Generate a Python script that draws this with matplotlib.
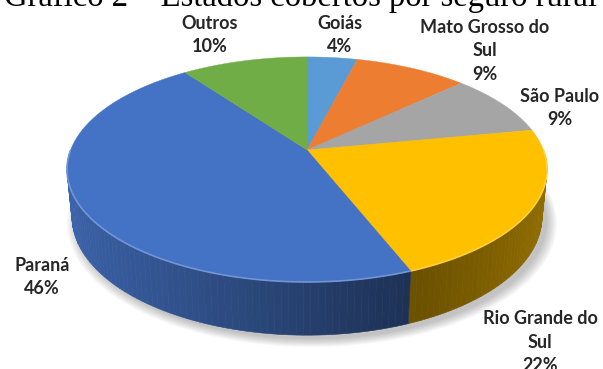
import numpy as np
import matplotlib
matplotlib.use('Agg')
import matplotlib.pyplot as plt
from matplotlib.patches import Polygon
from matplotlib.colors import to_rgb

# data
states = ['Goiás', 'Mato Grosso do\nSul', 'São Paulo', 'Rio Grande do\nSul', 'Paraná', 'Outros']
shares = [4, 9, 9, 22, 46, 10]
colors = ['#5B9BD5', '#ED7D31', '#A5A5A5', '#FFC000', '#4472C4', '#70AD47']
title = 'Gráfico 2 – Estados cobertos por seguro rural'

# label anchors in pixel coords (layout only)
label_xy = [(340, 35), (485, 51), (560, 108), (540, 342), (42, 277), (210, 35)]

# 3d view of the pie
CX, CY = 307, 150
PHI = np.radians(27.5)
DIST = 5.13
FOC = 1212.7
DEPTH = 0.228


def project(u, v, h=0.0):
    yc = -v * np.sin(PHI) + h * np.cos(PHI)
    zc = DIST - v * np.cos(PHI) - h * np.sin(PHI)
    return CX + FOC * u / zc, CY - FOC * yc / zc


def rim(t0, t1, h=0.0, n=120):
    t = np.radians(np.linspace(t0, t1, n))
    return project(np.sin(t), -np.cos(t), h)


def shade(c, f):
    return tuple(np.clip(np.array(to_rgb(c)) * f, 0, 1))


def lighten(c, f):
    r = np.array(to_rgb(c))
    return tuple(r + (1 - r) * f)


fig = plt.figure(figsize=(6.03, 3.69), dpi=100)
ax = fig.add_axes([0, 0, 1, 1])
ax.set_xlim(0, 603)
ax.set_ylim(369, 0)
ax.axis('off')

# soft shadow under the pie
bx, by = rim(0, 360, -DEPTH, 240)
for i in range(8):
    s = 1 + 0.006 * i
    ax.add_patch(Polygon(np.c_[CX + (bx - CX) * s + 5, CY + (by - CY) * s + 4],
                         closed=True, fc='black', ec='none', alpha=0.03, zorder=1))

angles = np.cumsum([0] + shares) * 3.6
for i, c in enumerate(colors):
    a0, a1 = angles[i], angles[i + 1]
    # visible outer side (front half)
    s0, s1 = max(a0, 90), min(a1, 270)
    if s1 > s0:
        edges = np.linspace(s0, s1, int((s1 - s0) / 1.5) + 2)
        for e0, e1 in zip(edges[:-1], edges[1:]):
            m = np.radians((e0 + e1) / 2)
            f = np.interp(np.sin(m), [-1, -0.3, 0.4, 1], [0.88, 0.66, 0.42, 0.58])
            tx, ty = rim(e0, e1, 0, 4)
            lx, ly = rim(e1, e0, -DEPTH, 4)
            col = shade(c, f)
            ax.add_patch(Polygon(np.c_[np.r_[tx, lx], np.r_[ty, ly]], closed=True,
                                 fc=col, ec=col, lw=0.4, zorder=2))
    # top face
    x, y = rim(a0, a1)
    px, py = project(0, 0)
    ax.add_patch(Polygon(np.c_[np.r_[px, x], np.r_[py, y]], closed=True,
                         fc=c, ec=c, lw=0.3, zorder=3))
    if s1 > s0:
        hx, hy = rim(s0, s1, 0, 60)
        ax.plot(hx, hy, color=lighten(c, 0.25), lw=1.2, zorder=4,
                solid_capstyle='butt')

for (lx, ly), name, v in zip(label_xy, states, shares):
    ax.text(lx, ly, f'{name}\n{v}%', ha='center', va='center', fontsize=13,
            fontweight='bold', family=['Lato', 'DejaVu Sans'], color='#262626',
            linespacing=1.45, zorder=5)

ax.text(301, 6, title, ha='center', va='baseline', fontsize=23.5,
        family=['Liberation Serif', 'DejaVu Serif'], color='black')

fig.savefig('out.png', dpi=100)
